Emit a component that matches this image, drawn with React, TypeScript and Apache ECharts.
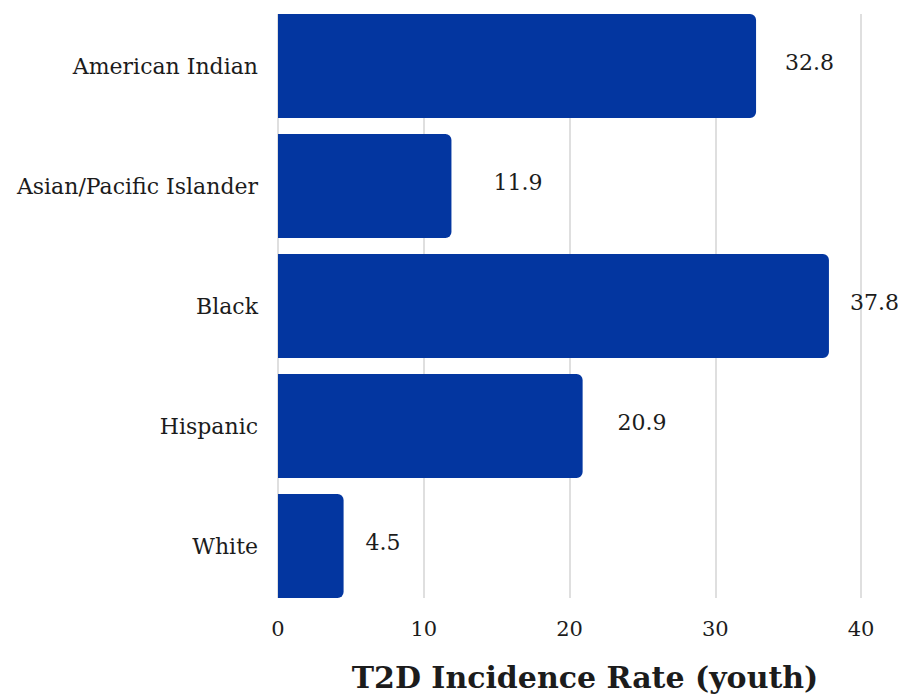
import React, { useEffect, useRef } from "react";
import * as echarts from "echarts";

const categories = ["American Indian", "Asian/Pacific Islander", "Black", "Hispanic", "White"];
const values = [32.8, 11.9, 37.8, 20.9, 4.5];
const xTicks = [0, 10, 20, 30, 40];
const axisTitle = "T2D Incidence Rate (youth)";

// label gaps (style) per bar
const labelGaps = [29, 42, 21, 35, 22];

const FONT = "'DejaVu Serif', serif";
const BAR = "#0336a0";
const TEXT = "#1c1c1c";

export default function App() {
  const ref = useRef<HTMLDivElement>(null);
  useEffect(() => {
    if (!ref.current) return;
    const chart = echarts.init(ref.current, undefined, { renderer: "svg" });
    const xMin = xTicks[0];
    const xMax = xTicks[xTicks.length - 1];
    const interval = xTicks[1] - xTicks[0];
    chart.setOption({
      animation: false,
      backgroundColor: "#ffffff",
      grid: [
        { left: 278, right: 37, top: 6, height: 600, containLabel: false },
        { left: 278, right: 37, top: 14, height: 584, containLabel: false },
      ],
      xAxis: [
        {
          type: "value",
          gridIndex: 0,
          min: xMin,
          max: xMax,
          interval,
          axisLine: { show: false },
          axisTick: { show: false },
          splitLine: { show: false },
          axisLabel: {
            color: TEXT,
            fontFamily: FONT,
            fontSize: 21,
            margin: 12,
          },
        },
        {
          type: "value",
          gridIndex: 1,
          min: xMin,
          max: xMax,
          interval,
          axisLine: { show: false },
          axisTick: { show: false },
          axisLabel: { show: false },
          splitLine: { show: true, lineStyle: { color: "#d4d4d4", width: 1.5 } },
        },
      ],
      yAxis: [
        {
          type: "category",
          gridIndex: 0,
          data: categories,
          inverse: true,
          axisLine: { show: false },
          axisTick: { show: false },
          axisLabel: {
            color: TEXT,
            fontFamily: FONT,
            fontSize: 22,
            margin: 20,
          },
        },
        {
          type: "category",
          gridIndex: 1,
          data: categories,
          inverse: true,
          show: false,
        },
      ],
      series: [
        {
          type: "bar",
          xAxisIndex: 0,
          yAxisIndex: 0,
          barWidth: 104,
          z: 5,
          itemStyle: { color: BAR, borderRadius: [0, 6, 6, 0] },
          data: values.map((v, i) => ({
            value: v,
            label: { distance: labelGaps[i] },
          })),
          label: {
            show: true,
            position: "right",
            color: TEXT,
            fontFamily: FONT,
            fontSize: 22,
            offset: [0, -4],
          },
        },
      ],
      graphic: [
        {
          type: "text",
          x: 585,
          y: 677,
          style: {
            text: axisTitle,
            fill: TEXT,
            font: `bold 30px ${FONT}`,
            textAlign: "center",
            textVerticalAlign: "middle",
          },
        },
      ],
    });
    return () => chart.dispose();
  }, []);
  return <div ref={ref} style={{ width: 898, height: 697, position: "absolute", left: 0, top: 0 }} />;
}
